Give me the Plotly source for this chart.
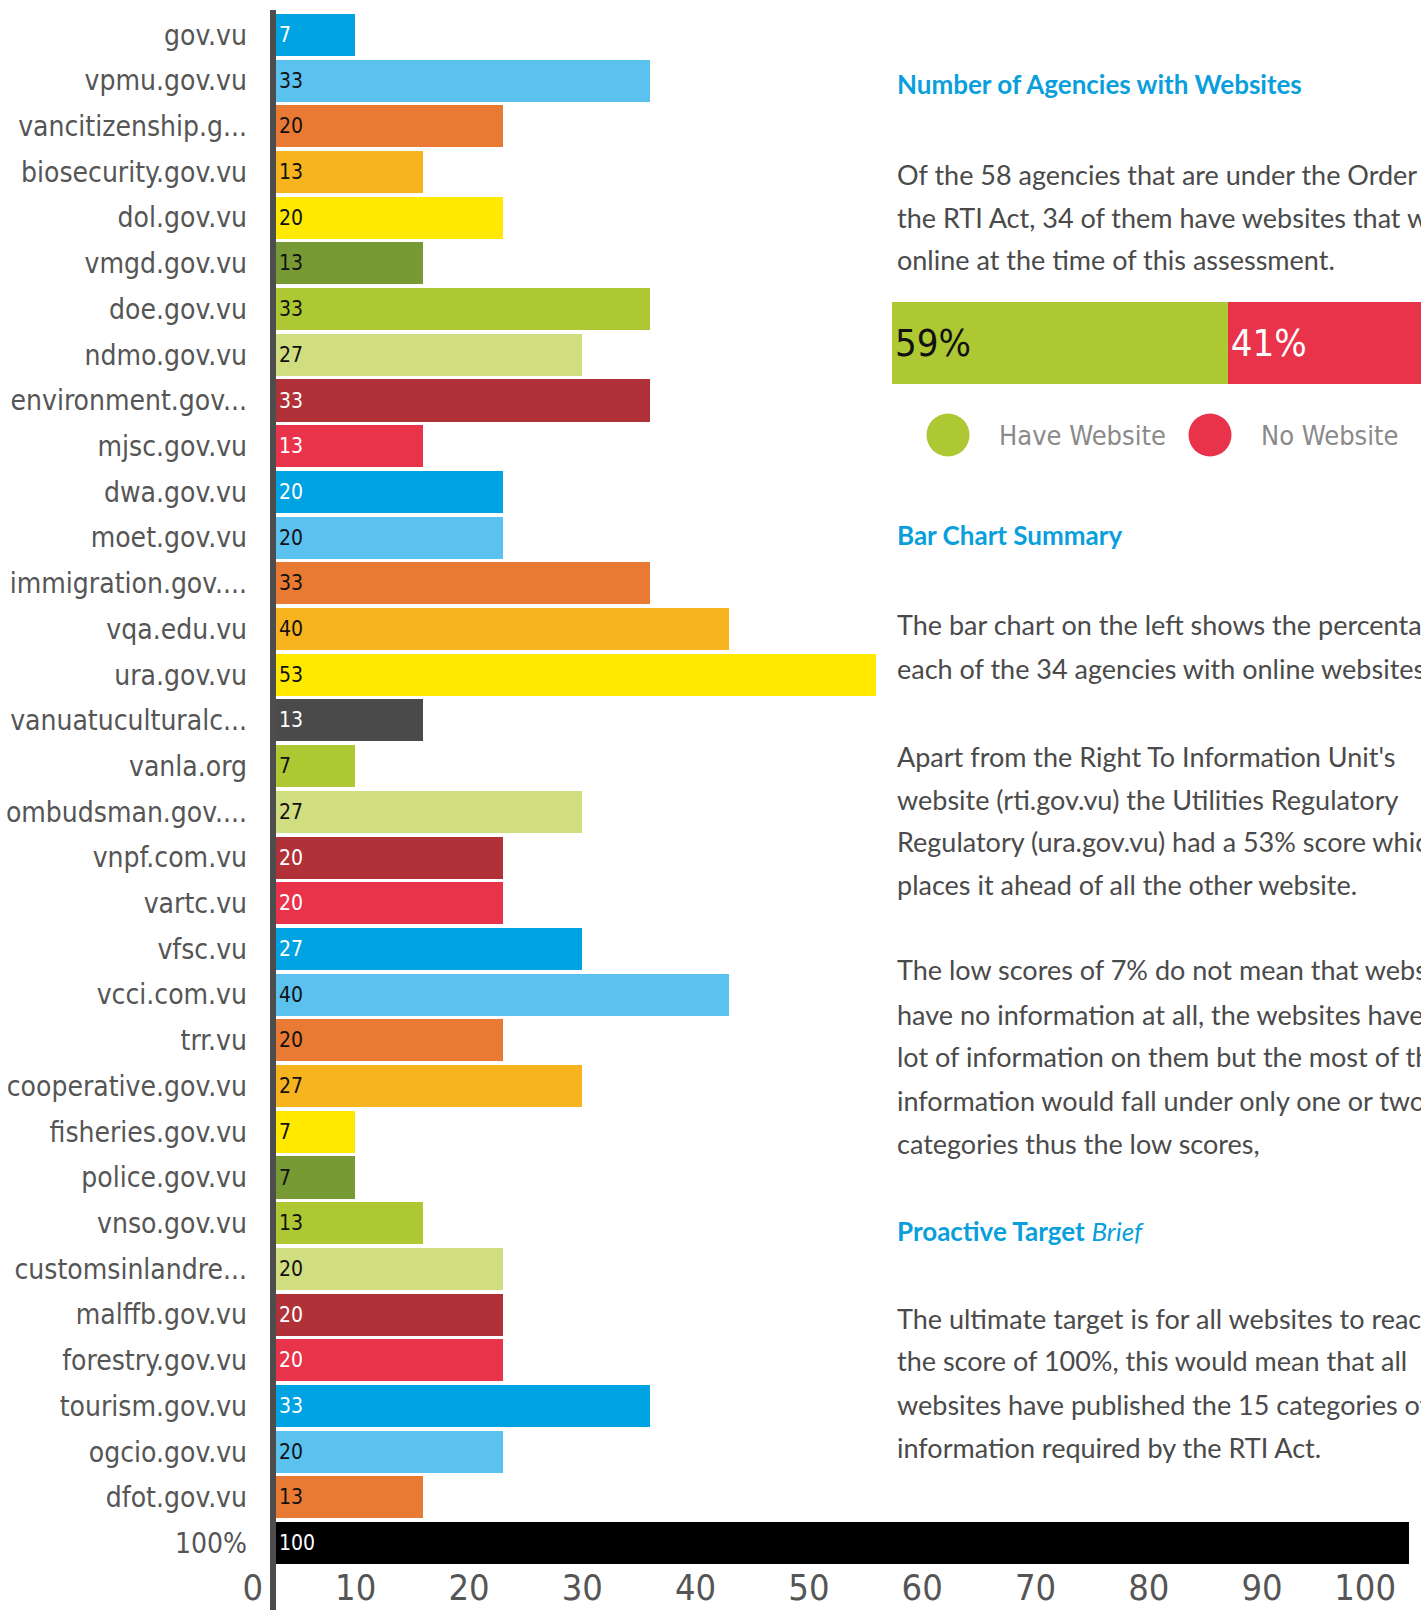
import plotly.graph_objects as go

# ---------------- data ----------------
sites = ["gov.vu", "vpmu.gov.vu", "vancitizenship.g...", "biosecurity.gov.vu", "dol.gov.vu",
         "vmgd.gov.vu", "doe.gov.vu", "ndmo.gov.vu", "environment.gov...", "mjsc.gov.vu",
         "dwa.gov.vu", "moet.gov.vu", "immigration.gov....", "vqa.edu.vu", "ura.gov.vu",
         "vanuatuculturalc...", "vanla.org", "ombudsman.gov....", "vnpf.com.vu", "vartc.vu",
         "vfsc.vu", "vcci.com.vu", "trr.vu", "cooperative.gov.vu", "fisheries.gov.vu",
         "police.gov.vu", "vnso.gov.vu", "customsinlandre...", "malffb.gov.vu", "forestry.gov.vu",
         "tourism.gov.vu", "ogcio.gov.vu", "dfot.gov.vu", "100%"]
scores = [7, 33, 20, 13, 20, 13, 33, 27, 33, 13,
          20, 20, 33, 40, 53, 13, 7, 27, 20, 20,
          27, 40, 20, 27, 7, 7, 13, 20, 20, 20,
          33, 20, 13, 100]

BLUE, LBLUE, ORANGE, AMBER, YELLOW = "#00A3E2", "#5BC2F0", "#E97A33", "#F8B41E", "#FFE900"
DGREEN, LGREEN, PALE, DRED, RED, DGREY = "#779A35", "#ADC832", "#D1DE7F", "#B03238", "#E8334A", "#4A4A4A"
bar_colors = [BLUE, LBLUE, ORANGE, AMBER, YELLOW, DGREEN, LGREEN, PALE, DRED, RED,
              BLUE, LBLUE, ORANGE, AMBER, YELLOW, DGREY, LGREEN, PALE, DRED, RED,
              BLUE, LBLUE, ORANGE, AMBER, YELLOW, DGREEN, LGREEN, PALE, DRED, RED,
              BLUE, LBLUE, ORANGE, "#000000"]
WHITE_ON = {BLUE, DRED, RED, DGREY, "#000000"}
text_colors = ["#FFFFFF" if c in WHITE_ON else "#111111" for c in bar_colors]

share_labels = ["Have Website", "No Website"]
share_values = [59, 41]
share_colors = [LGREEN, RED]
share_text_colors = ["#111111", "#FFFFFF"]

x_ticks = [0, 10, 20, 30, 40, 50, 60, 70, 80, 90, 100]

# ---------------- style ----------------
W, H = 1421, 1610
T, B = 12, 44
NARROW = "Liberation Sans Narrow, DejaVu Sans Condensed, Arial Narrow, sans-serif"
BODY = "Lato, Liberation Sans, sans-serif"
GREY_TXT = "#555555"
BODY_TXT = "#4A4A4A"
HEAD = "#0A9FDC"


def px_x(x):
    return x / W


def px_y(y):
    return (H - B - y) / (H - T - B)


fig = go.Figure()

fig.add_trace(go.Bar(
    x=scores, y=sites, orientation="h",
    marker=dict(color=bar_colors, line=dict(width=0)),
    text=[str(v) for v in scores], textposition="inside", insidetextanchor="start",
    textangle=0, textfont=dict(family=NARROW, size=21, color=text_colors),
    cliponaxis=False, showlegend=False, hoverinfo="x+y",
    xaxis="x", yaxis="y",
))

# share bar (59% / 41%)
for lab, val, col, tcol in zip(share_labels, share_values, share_colors, share_text_colors):
    fig.add_trace(go.Bar(
        x=[val], y=["share"], orientation="h", name=lab,
        marker=dict(color=col, line=dict(width=0)),
        text=[f"{val}%"], textposition="inside", insidetextanchor="start", textangle=0,
        textfont=dict(family=NARROW, size=38, color=tcol),
        showlegend=False, xaxis="x2", yaxis="y2",
    ))

# legend dots
fig.add_trace(go.Scatter(
    x=[0, 1], y=[0, 0], mode="markers",
    marker=dict(size=43, color=share_colors, line=dict(width=0)),
    showlegend=False, hoverinfo="skip", cliponaxis=False,
    xaxis="x3", yaxis="y3",
))

fig.update_layout(
    width=W, height=H,
    margin=dict(l=0, r=0, t=T, b=B, autoexpand=False),
    paper_bgcolor="white", plot_bgcolor="white",
    barmode="stack", bargap=0.08,
    uniformtext=dict(minsize=10, mode="show"),
    xaxis=dict(domain=[px_x(276), px_x(1409)], range=[0, 100], tickvals=x_ticks,
               showgrid=False, zeroline=False, showline=False, ticks="", automargin=False,
               ticklabelposition="outside left", ticklabelshift=-13, ticklabelstandoff=-3,
               tickfont=dict(family=NARROW, size=36, color=GREY_TXT), fixedrange=True),
    yaxis=dict(type="category", autorange="reversed", showgrid=False, zeroline=False,
               showline=False, ticks="", ticklabelstandoff=28, automargin=False,
               tickfont=dict(family=NARROW, size=28, color=GREY_TXT), fixedrange=True),
    xaxis2=dict(domain=[px_x(892), 1.0], range=[0, 100 * (W - 892) / 569], visible=False,
                anchor="y2", fixedrange=True, automargin=False),
    yaxis2=dict(domain=[px_y(384), px_y(302)], range=[-0.46, 0.46], visible=False,
                anchor="x2", fixedrange=True, automargin=False),
    xaxis3=dict(domain=[px_x(948), px_x(1210)], range=[0, 1], visible=False,
                anchor="y3", fixedrange=True, automargin=False),
    yaxis3=dict(domain=[px_y(445), px_y(425)], range=[-1, 1], visible=False,
                anchor="x3", fixedrange=True, automargin=False),
)

# vertical axis line
fig.add_shape(type="line", xref="paper", yref="paper",
              x0=px_x(273), x1=px_x(273), y0=px_y(1610), y1=px_y(10),
              line=dict(color="#4D4D4D", width=6))

# right-hand text panel
TX = px_x(895)


def note(text, y, size=27, color=BODY_TXT, family=BODY):
    fig.add_annotation(text=text, xref="paper", yref="paper", x=TX, y=px_y(y),
                       xanchor="left", yanchor="middle", showarrow=False, align="left",
                       font=dict(family=family, size=size, color=color))


note("<b>Number of Agencies with Websites</b>", 84, size=26, color=HEAD)
for t, yy in zip(["Of the 58 agencies that are under the Order of",
                  "the RTI Act, 34 of them have websites that were",
                  "online at the time of this assessment."], [174, 217, 259]):
    note(t, yy)

fig.add_annotation(text="Have Website", xref="paper", yref="paper", x=px_x(997), y=px_y(435),
                   xanchor="left", yanchor="middle", showarrow=False,
                   font=dict(family=NARROW, size=27, color="#8A8A8A"))
fig.add_annotation(text="No Website", xref="paper", yref="paper", x=px_x(1259), y=px_y(435),
                   xanchor="left", yanchor="middle", showarrow=False,
                   font=dict(family=NARROW, size=27, color="#8A8A8A"))

note("<b>Bar Chart Summary</b>", 535, size=26, color=HEAD)
for t, yy in zip(["The bar chart on the left shows the percentage",
                  "each of the 34 agencies with online websites."], [625, 668]):
    note(t, yy)
for t, yy in zip(["Apart from the Right To Information Unit's",
                  "website (rti.gov.vu) the Utilities Regulatory",
                  "Regulatory (ura.gov.vu) had a 53% score which",
                  "places it ahead of all the other website."], [756, 799, 841, 884]):
    note(t, yy)
for t, yy in zip(["The low scores of 7% do not mean that websites",
                  "have no information at all, the websites have a",
                  "lot of information on them but the most of the",
                  "information would fall under only one or two",
                  "categories thus the low scores,"], [970, 1014, 1056, 1100, 1143]):
    note(t, yy)
note("<b>Proactive Target</b> <i>Brief</i>", 1231, size=26, color=HEAD)
for t, yy in zip(["The ultimate target is for all websites to reach",
                  "the score of 100%, this would mean that all",
                  "websites have published the 15 categories of",
                  "information required by the RTI Act."], [1318, 1360, 1404, 1447]):
    note(t, yy)

fig.write_html("out.html")
